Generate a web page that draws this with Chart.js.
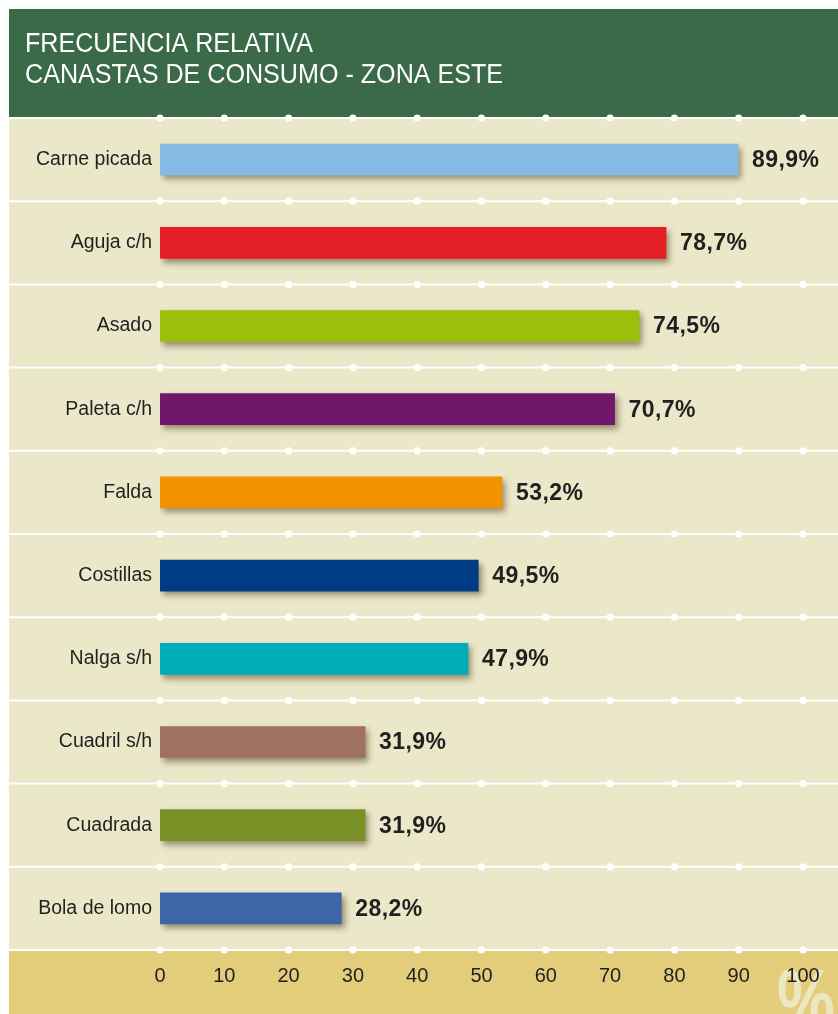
<!DOCTYPE html>
<html>
<head>
<meta charset="utf-8">
<script src="https://cdn.jsdelivr.net/npm/chart.js@4.4.1/dist/chart.umd.min.js"></script>
<style>
  html, body { margin: 0; padding: 0; background: #ffffff; }
  canvas { display: block; }
</style>
</head>
<body>
<canvas id="c" width="838" height="1014"></canvas>
<script>
const titleLines = ['FRECUENCIA RELATIVA', 'CANASTAS DE CONSUMO - ZONA ESTE'];
const categories = ['Carne picada', 'Aguja c/h', 'Asado', 'Paleta c/h', 'Falda', 'Costillas', 'Nalga s/h', 'Cuadril s/h', 'Cuadrada', 'Bola de lomo'];
const values = [89.9, 78.7, 74.5, 70.7, 53.2, 49.5, 47.9, 31.9, 31.9, 28.2];
const barColors = ['#87bae2', '#e31e24', '#9cbf0c', '#70176c', '#f39200', '#003c84', '#00acb8', '#9e7160', '#7a9128', '#3f65a9'];
const xTicks = [0, 10, 20, 30, 40, 50, 60, 70, 80, 90, 100];
const unitSymbol = '%';

const SANS = '"Liberation Sans", Arial, sans-serif';
const TEXT = '#231f20';

const backdrop = {
  id: 'backdrop',
  beforeDraw(chart) {
    const ctx = chart.ctx;
    const W = chart.width, H = chart.height;
    const area = chart.chartArea;
    ctx.save();
    ctx.fillStyle = '#ffffff';
    ctx.fillRect(0, 0, W, H);
    ctx.fillStyle = '#3b6a48';
    ctx.fillRect(9, 9, W - 9, area.top - 9);
    ctx.fillStyle = '#ebe7c9';
    ctx.fillRect(9, area.top, W - 9, area.bottom - area.top);
    ctx.fillStyle = '#e3cd7b';
    ctx.fillRect(9, area.bottom, W - 9, H - area.bottom);
    ctx.restore();

    // big unit symbol (condensed)
    ctx.save();
    ctx.fillStyle = 'rgba(238,232,200,0.92)';
    ctx.font = 'bold 88px ' + SANS;
    ctx.textBaseline = 'alphabetic';
    ctx.textAlign = 'left';
    ctx.translate(777, 1030);
    ctx.scale(0.74, 1);
    ctx.fillText(unitSymbol, 0, 0);
    ctx.restore();

    // title (slightly condensed)
    ctx.save();
    ctx.fillStyle = '#ffffff';
    ctx.font = '27px ' + SANS;
    ctx.textBaseline = 'alphabetic';
    ctx.textAlign = 'left';
    ctx.translate(25, 0);
    ctx.scale(0.93, 1);
    ctx.fillText(titleLines[0], 0, 52);
    ctx.fillText(titleLines[1], 0, 83);
    ctx.restore();

    // grid lines with dots
    const xs = chart.scales.x, ys = chart.scales.y;
    const lineYs = [area.top];
    for (let i = 0; i < categories.length - 1; i++) {
      lineYs.push((ys.getPixelForValue(i) + ys.getPixelForValue(i + 1)) / 2);
    }
    lineYs.push(area.bottom);
    ctx.save();
    ctx.strokeStyle = '#ffffff';
    ctx.fillStyle = '#ffffff';
    ctx.lineWidth = 2;
    lineYs.forEach(y => {
      ctx.beginPath();
      ctx.moveTo(9, y);
      ctx.lineTo(W, y);
      ctx.stroke();
      xTicks.forEach(t => {
        const x = xs.getPixelForValue(t);
        ctx.beginPath();
        ctx.arc(x, y, 3.6, 0, Math.PI * 2);
        ctx.fill();
      });
    });
    ctx.restore();
  }
};

const shadow = {
  id: 'shadow',
  beforeDatasetsDraw(chart) {
    const ctx = chart.ctx;
    ctx.save();
    ctx.shadowColor = 'rgba(70,50,20,0.5)';
    ctx.shadowBlur = 6;
    ctx.shadowOffsetX = 3;
    ctx.shadowOffsetY = 4;
  },
  afterDatasetsDraw(chart) {
    const ctx = chart.ctx;
    ctx.restore();
    const meta = chart.getDatasetMeta(0);
    ctx.save();
    ctx.fillStyle = TEXT;
    ctx.font = 'bold 23px ' + SANS;
    ctx.letterSpacing = '0.4px';
    ctx.textAlign = 'left';
    ctx.textBaseline = 'middle';
    meta.data.forEach((bar, i) => {
      const label = values[i].toFixed(1).replace('.', ',') + '%';
      ctx.fillText(label, bar.x + 14, bar.y + 1);
    });
    ctx.restore();
  }
};

new Chart(document.getElementById('c'), {
  type: 'bar',
  data: {
    labels: categories,
    datasets: [{
      data: values,
      backgroundColor: barColors,
      borderWidth: 0,
      barThickness: 31
    }]
  },
  options: {
    indexAxis: 'y',
    responsive: false,
    devicePixelRatio: 1,
    animation: false,
    layout: { padding: { top: 118, right: 35, left: 0, bottom: 0 } },
    plugins: { legend: { display: false }, tooltip: { enabled: false }, title: { display: false } },
    scales: {
      x: {
        min: 0, max: 100,
        afterBuildTicks(scale) { scale.ticks = xTicks.map(v => ({ value: v })); },
        afterFit(scale) { scale.height = 64; },
        grid: { display: false, drawTicks: false },
        border: { display: false },
        ticks: { color: TEXT, font: { family: SANS, size: 20 }, padding: 14, maxRotation: 0, autoSkip: false }
      },
      y: {
        afterFit(scale) { scale.width = 160; },
        grid: { display: false, drawTicks: false },
        border: { display: false },
        ticks: { color: TEXT, font: { family: SANS, size: 19.5 }, padding: 8, autoSkip: false }
      }
    }
  },
  plugins: [backdrop, shadow]
});
</script>
</body>
</html>
